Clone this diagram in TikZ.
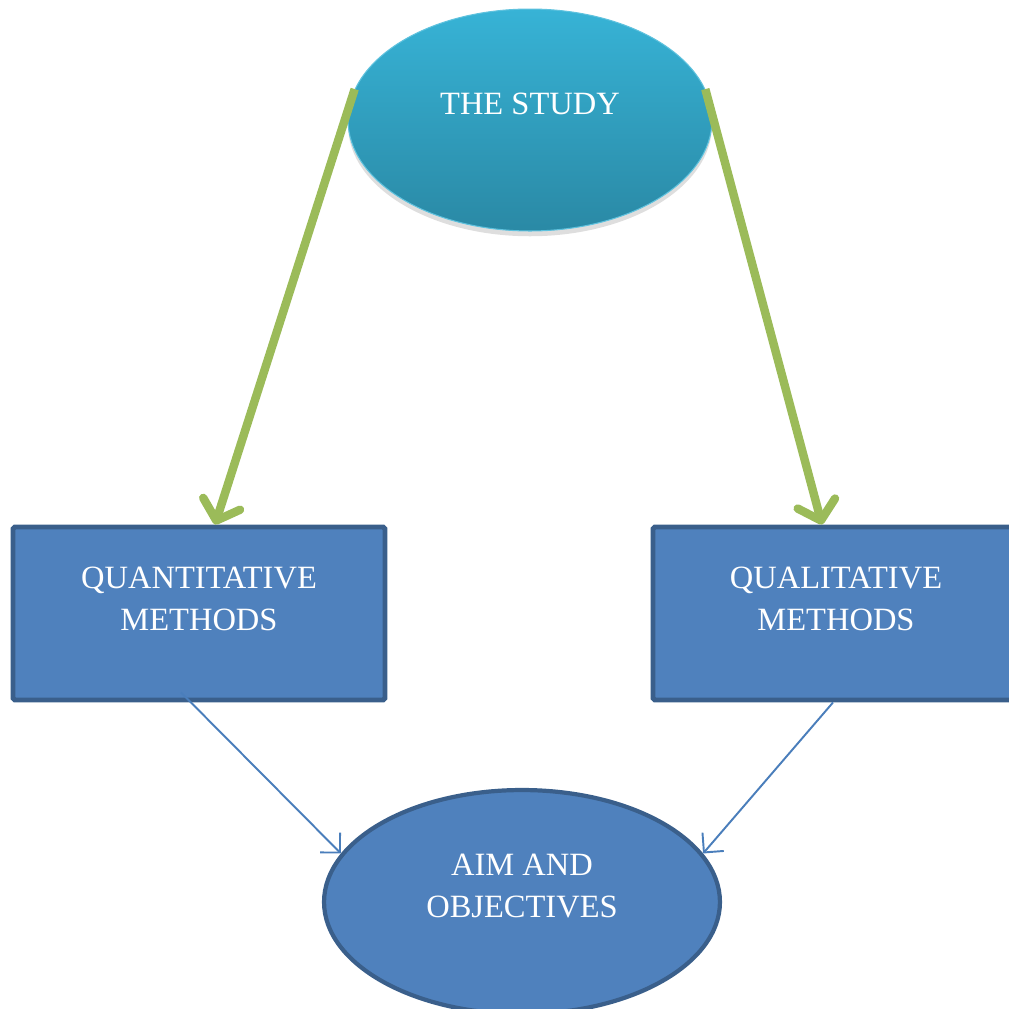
\documentclass[tikz,border=0pt]{standalone}
\usepackage{fontspec}
\setmainfont{Liberation Serif}
\usepackage{tikz}
\usetikzlibrary{arrows.meta,shadows,shapes.geometric}

\definecolor{studytop}{HTML}{37B3D6}
\definecolor{studybot}{HTML}{2A89A5}
\definecolor{boxfill}{HTML}{4F81BD}
\definecolor{boxline}{HTML}{3A5F8B}
\definecolor{leafgreen}{HTML}{9BBB59}
\definecolor{thinblue}{HTML}{4A7EBB}

\begin{document}
\begin{tikzpicture}[x=0.02cm,y=-0.02cm]
    \tikzstyle{topoval}=[ellipse,minimum width=7.28cm,minimum height=4.44cm,inner sep=0pt,
        top color=studytop,bottom color=studybot,draw=studytop!80!white,line width=0.6pt,
        drop shadow={shadow xshift=0pt,shadow yshift=-3pt,opacity=0.13,fill=black}]
    \tikzstyle{methodbox}=[rectangle,minimum width=7.44cm,minimum height=3.46cm,inner sep=0pt,
        fill=boxfill,draw=boxline,line width=2.8pt,rounded corners=1pt]
    \tikzstyle{aimoval}=[ellipse,minimum width=7.92cm,minimum height=4.48cm,inner sep=0pt,
        fill=boxfill,draw=boxline,line width=2.4pt]
    \tikzstyle{caption}=[text=white,align=center,font=\fontsize{18.5}{24}\selectfont]
    \tikzstyle{bigarrow}=[leafgreen,line width=4.8pt,-{Straight Barb[round,length=10pt,width=22pt]}]
    \tikzstyle{smallarrow}=[thinblue,line width=1.1pt,-{Straight Barb[length=8pt,width=16pt]}]
    \useasboundingbox (0,0) rectangle (1009,1009);
    \node[topoval] (study) at (530,120) {};
    \node[methodbox] (quant) at (199,613.5) {};
    \node[methodbox] (quali) at (839,613.5) {};
    \node[aimoval] (aim) at (522,902) {};
    \node[caption] (study_t) at (530,104) {THE STUDY};
    \node[caption] (quant_t) at (199,599) {QUANTITATIVE\\METHODS};
    \node[caption] (quali_t) at (836,599) {QUALITATIVE\\METHODS};
    \node[caption] (aim_t) at (522,886) {AIM AND\\OBJECTIVES};
    \draw [bigarrow] (study.170) -- ([xshift=0.32cm]quant.north);
    \draw [bigarrow] (study.10) -- ([xshift=-0.34cm]quali.north);
    \draw [smallarrow] ([xshift=-0.36cm,yshift=0.2cm]quant.south) -- (aim.165);
    \draw [smallarrow] ([xshift=-0.12cm]quali.south) -- (aim.15);
\end{tikzpicture}
\end{document}
